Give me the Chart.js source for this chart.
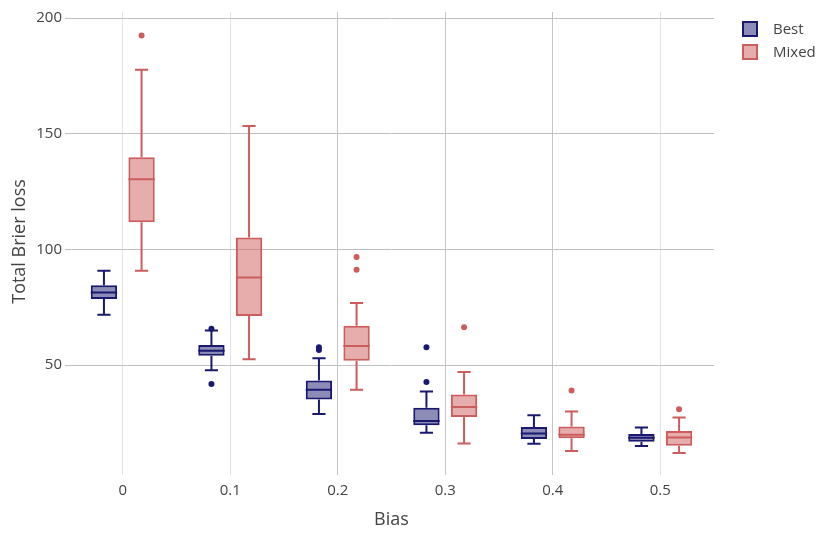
<!DOCTYPE html>
<html><head><meta charset="utf-8">
<script src="https://cdn.jsdelivr.net/npm/chart.js@4.4.1/dist/chart.umd.min.js"></script>
<style>html,body{margin:0;padding:0;background:#fff;}#wrap{width:820px;height:534px;}</style>
</head><body><div id="wrap"><canvas id="c" width="820" height="534"></canvas></div>
<script>
const categories = ['0', '0.1', '0.2', '0.3', '0.4', '0.5'];
const seriesNames = ['Best', 'Mixed'];
const yTicks = [50, 100, 150, 200];

const bestMin    = [71.8, 47.8, 28.9, 20.8, 16.1, 15.1];
const bestQ1     = [78.6, 54.1, 35.2, 24.1, 18.1, 16.9];
const bestMedian = [81.4, 56.3, 39.4, 25.9, 20.5, 18.7];
const bestQ3     = [84.5, 58.7, 43.4, 31.6, 23.3, 20.3];
const bestMax    = [90.8, 65.0, 53.0, 38.6, 28.4, 23.1];
const bestOutliers = [[], [65.8, 41.9], [57.8, 56.6], [57.8, 42.7], [], []];

const mixedMin    = [90.8, 52.6, 39.4, 16.2, 12.9, 12.1];
const mixedQ1     = [111.8, 71.3, 51.9, 27.6, 18.5, 15.2];
const mixedMedian = [130.3, 87.9, 58.3, 32.0, 20.0, 18.8];
const mixedQ3     = [139.8, 105.2, 67.1, 37.4, 23.5, 21.6];
const mixedMax    = [177.7, 153.4, 76.9, 47.1, 30.0, 27.4];
const mixedOutliers = [[192.4], [], [96.7, 91.2], [66.4], [39.1], [31.0]];

const BEST_LINE = 'rgb(25,25,112)', BEST_FILL = 'rgba(25,25,112,0.5)';
const MIX_LINE = 'rgb(205,92,92)', MIX_FILL = 'rgba(205,92,92,0.5)';
const FONT = "'Open Sans', sans-serif";
const TEXT = '#444';

const stats = [
  {min: bestMin, q1: bestQ1, med: bestMedian, q3: bestQ3, max: bestMax, out: bestOutliers, line: BEST_LINE, fill: BEST_FILL},
  {min: mixedMin, q1: mixedQ1, med: mixedMedian, q3: mixedQ3, max: mixedMax, out: mixedOutliers, line: MIX_LINE, fill: MIX_FILL}
];

const boxPlugin = {
  id: 'boxDetails',
  afterDatasetsDraw(chart) {
    const ctx = chart.ctx, y = chart.scales.y;
    ctx.save();
    stats.forEach((s, di) => {
      const meta = chart.getDatasetMeta(di);
      meta.data.forEach((bar, i) => {
        const p = bar.getProps(['x', 'width'], true);
        const x = p.x, w = p.width;
        ctx.strokeStyle = s.line;
        ctx.lineWidth = 2;
        ctx.lineCap = 'butt';
        const yq1 = y.getPixelForValue(s.q1[i]), yq3 = y.getPixelForValue(s.q3[i]);
        const ymin = y.getPixelForValue(s.min[i]), ymax = y.getPixelForValue(s.max[i]);
        const ymed = y.getPixelForValue(s.med[i]);
        ctx.beginPath();
        ctx.moveTo(x, yq3); ctx.lineTo(x, ymax);
        ctx.moveTo(x - w / 4, ymax); ctx.lineTo(x + w / 4, ymax);
        ctx.moveTo(x, yq1); ctx.lineTo(x, ymin);
        ctx.moveTo(x - w / 4, ymin); ctx.lineTo(x + w / 4, ymin);
        ctx.moveTo(x - w / 2, ymed); ctx.lineTo(x + w / 2, ymed);
        ctx.stroke();
        ctx.fillStyle = s.line;
        s.out[i].forEach(v => {
          ctx.beginPath();
          ctx.arc(x, y.getPixelForValue(v), 3, 0, Math.PI * 2);
          ctx.fill();
        });
      });
    });
    ctx.restore();
  },
  afterDraw(chart) {
    const ctx = chart.ctx;
    ctx.save();
    const bx = 742, tops = [21, 44];
    stats.forEach((s, i) => {
      ctx.fillStyle = '#fff';
      ctx.fillRect(bx, tops[i], 16, 16);
      ctx.fillStyle = s.fill;
      ctx.fillRect(bx + 1, tops[i] + 1, 14, 14);
      ctx.strokeStyle = s.line;
      ctx.lineWidth = 2;
      ctx.strokeRect(bx + 1, tops[i] + 1, 14, 14);
      ctx.fillStyle = TEXT;
      ctx.font = "15px " + FONT;
      ctx.textBaseline = 'middle';
      ctx.textAlign = 'left';
      ctx.fillText(seriesNames[i], 773, tops[i] + 8.5);
    });
    ctx.restore();
  }
};

const xGridColors = ['#e3e3e3', '#e3e3e3', '#c4c4c4', '#c4c4c4', '#c4c4c4', '#e3e3e3'];

new Chart(document.getElementById('c'), {
  type: 'bar',
  data: {
    labels: categories,
    datasets: stats.map((s, i) => ({
      label: seriesNames[i],
      data: s.q1.map((v, j) => [v, s.q3[j]]),
      backgroundColor: s.fill,
      borderColor: s.line,
      borderWidth: 2,
      borderSkipped: false,
      categoryPercentage: 0.7,
      barPercentage: 0.7
    }))
  },
  options: {
    responsive: false,
    animation: false,
    devicePixelRatio: 1,
    layout: {padding: {top: 10, right: 106, left: 0, bottom: 0}},
    plugins: {legend: {display: false}, tooltip: {enabled: false}},
    scales: {
      x: {
        offset: true,
        grid: {offset: false, color: c => xGridColors[c.index] || '#e3e3e3', tickLength: 4, lineWidth: 1},
        border: {display: false},
        ticks: {color: TEXT, font: {family: FONT, size: 15}, padding: 7, maxRotation: 0},
        title: {display: true, text: 'Bias', color: TEXT, font: {family: FONT, size: 18}, padding: {top: 0, bottom: 3}},
        afterFit: sc => { sc.height = 63; }
      },
      y: {
        min: 4.3, max: 202.6,
        afterBuildTicks: sc => { sc.ticks = yTicks.map(v => ({value: v})); },
        grid: {color: '#c0c0c0', tickLength: 4, lineWidth: 1},
        border: {display: false},
        ticks: {color: TEXT, font: {family: FONT, size: 15}, padding: 3},
        title: {display: true, text: 'Total Brier loss', color: TEXT, font: {family: FONT, size: 18}, padding: {top: 9, bottom: 0}},
        afterFit: sc => { sc.width = 69; }
      }
    }
  },
  plugins: [boxPlugin]
});
</script>
</body></html>
